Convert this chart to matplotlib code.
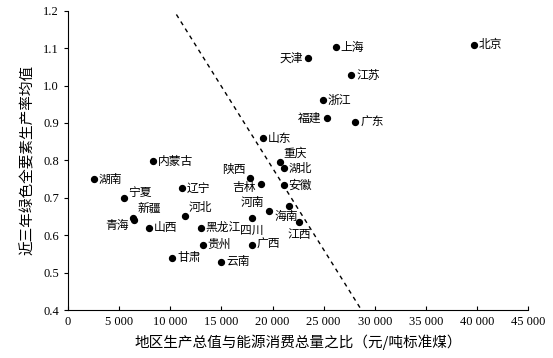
import numpy as np
import matplotlib.pyplot as plt

plt.rcParams['font.family'] = ['Liberation Serif', 'Noto Sans CJK SC', 'DejaVu Sans']

# region, GDP per ton of standard coal (yuan), mean green TFP
regions = ['北京', '上海', '天津', '江苏', '浙江', '福建', '广东', '山东', '重庆', '湖北',
           '陕西', '吉林', '安徽', '河南', '海南', '江西', '四川', '广西', '云南', '贵州',
           '黑龙江', '甘肃', '河北', '辽宁', '内蒙古', '湖南', '宁夏', '新疆', '青海', '山西']
gdp_energy = [39700, 26200, 23500, 27700, 24900, 25300, 28100, 19100, 20700, 21100,
              17800, 18900, 21100, 19700, 21600, 22600, 18000, 18000, 15000, 13200,
              13000, 10200, 11400, 11100, 8300, 2500, 5500, 6400, 6450, 7900]
tfp = [1.109, 1.103, 1.074, 1.028, 0.961, 0.913, 0.902, 0.859, 0.797, 0.779,
       0.754, 0.738, 0.733, 0.666, 0.679, 0.634, 0.647, 0.575, 0.529, 0.575,
       0.620, 0.540, 0.652, 0.725, 0.798, 0.749, 0.700, 0.647, 0.641, 0.620]
# label offsets in points (dx, dy, ha)
offsets = {
    '天津': (-4, 0, 'right'), '福建': (-4, 0, 'right'), '重庆': (3, 6, 'left'),
    '陕西': (-3, 6, 'right'), '吉林': (-4, -3, 'right'), '河南': (-4, 6, 'right'),
    '海南': (-2, -8, 'center'), '江西': (0, -9, 'center'), '四川': (0, -9, 'center'),
    '河北': (3, 6, 'left'), '宁夏': (3, 4, 'left'), '新疆': (3, 7, 'left'),
    '青海': (-4, -4, 'right'),
}
trend_x = [10600, 28700]
trend_y = [1.19, 0.40]

fig, ax = plt.subplots(figsize=(5.53, 3.58), dpi=100)
fig.subplots_adjust(left=0.123, right=0.955, bottom=0.134, top=0.97)

ax.scatter(gdp_energy, tfp, s=18, color='black', zorder=3)
for name, x, y in zip(regions, gdp_energy, tfp):
    dx, dy, ha = offsets.get(name, (3.5, 0, 'left'))
    ax.annotate(name, (x, y), xytext=(dx, dy), textcoords='offset points',
                ha=ha, va='center', fontsize=8.5, family=['Noto Sans CJK SC'])

ax.plot(trend_x, trend_y, color='black', linestyle=(0, (3, 3)), linewidth=1)

ax.set_xlim(0, 45000)
ax.set_ylim(0.4, 1.2)
ax.set_xticks(np.arange(0, 45001, 5000))
ax.set_xticklabels(['0' if v == 0 else f'{v // 1000} 000' for v in range(0, 45001, 5000)])
ax.set_yticks(np.arange(0.4, 1.21, 0.1))
ax.set_yticklabels([f'{v:.1f}' for v in np.arange(0.4, 1.21, 0.1)])
ax.tick_params(axis='x', direction='in', length=3, labelsize=9, pad=4)
ax.tick_params(axis='y', direction='out', length=3, labelsize=9)
ax.spines['top'].set_visible(False)
ax.spines['right'].set_visible(False)
ax.set_xlabel('地区生产总值与能源消费总量之比（元/吨标准煤）', fontsize=10.5,
              family=['Noto Sans CJK SC'], labelpad=5)
ax.set_ylabel('近三年绿色全要素生产率均值', fontsize=10.5,
              family=['Noto Sans CJK SC'], labelpad=6)

fig.savefig('out.png', dpi=100)
